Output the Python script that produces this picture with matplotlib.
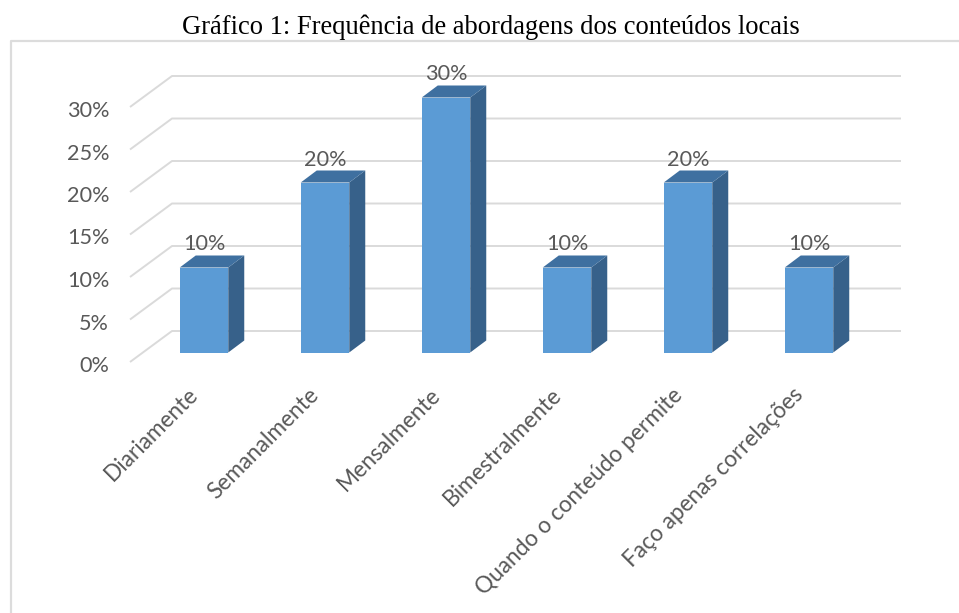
import matplotlib
matplotlib.use("Agg")
import matplotlib.pyplot as plt
from matplotlib.patches import Rectangle
from matplotlib.transforms import ScaledTranslation

categories = ["Diariamente", "Semanalmente", "Mensalmente", "Bimestralmente",
              "Quando o conteúdo permite", "Faço apenas correlações"]
values = [10, 20, 30, 10, 20, 10]
y_ticks = [0, 5, 10, 15, 20, 25, 30]
title = "Gráfico 1: Frequência de abordagens dos conteúdos locais"

W, H = 959, 613
FRONT = "#5B9BD5"
SIDE = "#37618A"
TOP = "#3F70A0"
GRID = "#DADADA"
TEXT = "#595959"

fig = plt.figure(figsize=(W / 100, H / 100), dpi=100)

# outer chart frame, only left and top edges are visible in the page crop
fig.add_artist(plt.Line2D([10.5 / W, 10.5 / W, 1], [0, 1 - 40.5 / H, 1 - 40.5 / H],
                          color="#DCDCDC", lw=1.6))
fig.text(491 / W, 1 - 27 / H, title, family="Liberation Serif", fontsize=19.1,
         color="black", ha="center", va="center")

# axes = front edge of the 3D floor, everything else is offset in pixels from it
ax = fig.add_axes([130 / W, 1 - 362 / H, 726 / W, 255 / H])
ax.set_xlim(-0.5, 5.5)
ax.set_ylim(0, 30)
px_x = 6 / 726
px_y = 30 / 255
for s in ax.spines.values():
    s.set_visible(False)

# walls: slanted piece then the long line at the back
back_x, back_y = 42 * px_x, 31 * px_y
for v in y_ticks:
    ax.plot([-0.5, -0.5 + back_x, 5.5 + 45 * px_x], [v, v + back_y, v + back_y],
            color=GRID, lw=1.4, clip_on=False, zorder=1, solid_capstyle="butt")

# bars sit a bit inside the floor, with a fake depth
off_x, off_y = 13.5 * px_x, 9.5 * px_y
bar_w = 48.5 * px_x
dep_x, dep_y = 16 * px_x, 12 * px_y
for i, v in enumerate(values):
    x0 = i + off_x - bar_w / 2
    x1 = x0 + bar_w
    y0 = off_y
    y1 = off_y + v
    ax.add_patch(Rectangle((x0, y0), bar_w, v, fc=FRONT, ec="none", zorder=3, clip_on=False))
    ax.fill([x1, x1 + dep_x, x1 + dep_x, x1], [y0, y0 + dep_y, y1 + dep_y, y1],
            color=SIDE, lw=0, zorder=3, clip_on=False)
    ax.fill([x0, x0 + dep_x, x1 + dep_x, x1], [y1, y1 + dep_y, y1 + dep_y, y1],
            color=TOP, lw=0, zorder=3, clip_on=False)
    ax.annotate(f"{v}%", (i + off_x, y1), xytext=(0, 23 * 0.72), textcoords="offset points",
                ha="center", va="center", family="Lato", fontsize=15.6, color=TEXT,
                zorder=4, annotation_clip=False)

ax.set_yticks(y_ticks)
ax.set_yticklabels([f"{v}%" for v in y_ticks], family="Lato", fontsize=15.6, color=TEXT)
ax.set_xticks(range(len(categories)))
ax.set_xticklabels(categories, family="Lato", fontsize=16.3, color=TEXT, rotation=45,
                   ha="right", va="top", rotation_mode="anchor")
ax.tick_params(axis="both", length=0)
ax.tick_params(axis="y", pad=15)
ax.tick_params(axis="x", pad=0)
shift = ScaledTranslation(-3 / 100, -22 / 100, fig.dpi_scale_trans)
for lab in ax.get_xticklabels():
    lab.set_transform(lab.get_transform() + shift)
down = ScaledTranslation(0, -2 / 100, fig.dpi_scale_trans)
for lab in ax.get_yticklabels():
    lab.set_transform(lab.get_transform() + down)

fig.savefig("out.png", dpi=100)
